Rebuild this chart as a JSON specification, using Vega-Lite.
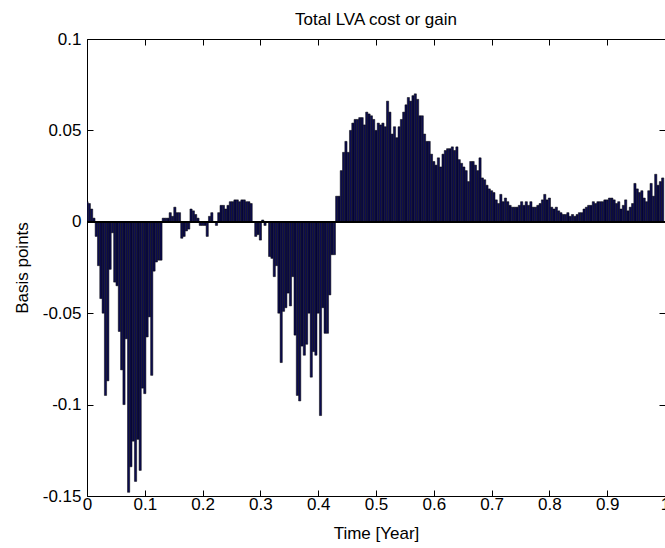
{
  "$schema": "https://vega.github.io/schema/vega-lite/v6.json",
  "width": 578,
  "height": 457,
  "autosize": {"type": "none"},
  "padding": {"left": 87, "top": 39, "right": 0, "bottom": 52},
  "background": "white",
  "title": {"text": "Total LVA cost or gain", "font": "Liberation Sans", "fontSize": 17, "fontWeight": "normal", "color": "black", "anchor": "middle", "offset": 1},
  "config": {
    "view": {"stroke": null},
    "axis": {
      "grid": false,
      "domainColor": "black",
      "tickColor": "black",
      "labelColor": "black",
      "titleColor": "black",
      "labelFont": "Liberation Sans",
      "titleFont": "Liberation Sans",
      "labelFontSize": 17,
      "titleFontSize": 17,
      "titleFontWeight": "normal",
      "tickSize": -6,
      "labelFlush": false,
      "labelOverlap": false
    }
  },
  "data": {"values": [
    {"t":0,"v":0.011},{"t":0.004,"v":0.010},{"t":0.008,"v":0.007},{"t":0.012,"v":0.002},{"t":0.016,"v":-0.008},
    {"t":0.02,"v":-0.024},{"t":0.024,"v":-0.042},{"t":0.028,"v":-0.050},{"t":0.032,"v":-0.095},{"t":0.036,"v":-0.087},
    {"t":0.04,"v":-0.026},{"t":0.044,"v":-0.006},{"t":0.048,"v":-0.033},{"t":0.052,"v":-0.035},{"t":0.056,"v":-0.060},
    {"t":0.06,"v":-0.081},{"t":0.064,"v":-0.100},{"t":0.068,"v":-0.064},{"t":0.072,"v":-0.148},{"t":0.076,"v":-0.134},
    {"t":0.08,"v":-0.120},{"t":0.084,"v":-0.142},{"t":0.088,"v":-0.119},{"t":0.092,"v":-0.136},{"t":0.096,"v":-0.091},
    {"t":0.1,"v":-0.094},{"t":0.104,"v":-0.063},{"t":0.108,"v":-0.052},{"t":0.112,"v":-0.084},{"t":0.116,"v":-0.027},
    {"t":0.12,"v":-0.022},{"t":0.124,"v":-0.021},{"t":0.128,"v":-0.021},{"t":0.132,"v":0.002},{"t":0.136,"v":0.002},
    {"t":0.14,"v":0.002},{"t":0.144,"v":0.005},{"t":0.148,"v":0.003},{"t":0.152,"v":0.008},{"t":0.156,"v":0.005},
    {"t":0.16,"v":0.005},{"t":0.164,"v":-0.009},{"t":0.168,"v":-0.008},{"t":0.172,"v":-0.005},{"t":0.176,"v":-0.004},
    {"t":0.18,"v":0.007},{"t":0.184,"v":0.006},{"t":0.188,"v":0.004},{"t":0.192,"v":0.002},{"t":0.196,"v":-0.002},
    {"t":0.2,"v":-0.002},{"t":0.204,"v":-0.002},{"t":0.208,"v":-0.008},{"t":0.212,"v":0.003},{"t":0.216,"v":0.005},
    {"t":0.22,"v":0.000},{"t":0.224,"v":-0.002},{"t":0.228,"v":0.005},{"t":0.232,"v":0.009},{"t":0.236,"v":0.009},
    {"t":0.24,"v":0.007},{"t":0.244,"v":0.009},{"t":0.248,"v":0.011},{"t":0.252,"v":0.011},{"t":0.256,"v":0.012},
    {"t":0.26,"v":0.012},{"t":0.264,"v":0.011},{"t":0.268,"v":0.012},{"t":0.272,"v":0.012},{"t":0.276,"v":0.011},
    {"t":0.28,"v":0.011},{"t":0.284,"v":0.010},{"t":0.288,"v":0.000},{"t":0.292,"v":-0.008},{"t":0.296,"v":-0.007},
    {"t":0.3,"v":-0.010},{"t":0.304,"v":0.001},{"t":0.308,"v":-0.002},{"t":0.312,"v":0.000},{"t":0.316,"v":-0.019},
    {"t":0.32,"v":-0.020},{"t":0.324,"v":-0.030},{"t":0.328,"v":-0.024},{"t":0.332,"v":-0.050},{"t":0.336,"v":-0.077},
    {"t":0.34,"v":-0.049},{"t":0.344,"v":-0.047},{"t":0.348,"v":-0.039},{"t":0.352,"v":-0.046},{"t":0.356,"v":-0.030},
    {"t":0.36,"v":-0.062},{"t":0.364,"v":-0.095},{"t":0.368,"v":-0.098},{"t":0.372,"v":-0.068},{"t":0.376,"v":-0.073},
    {"t":0.38,"v":-0.067},{"t":0.384,"v":-0.050},{"t":0.388,"v":-0.085},{"t":0.392,"v":-0.071},{"t":0.396,"v":-0.073},
    {"t":0.4,"v":-0.050},{"t":0.404,"v":-0.106},{"t":0.408,"v":-0.047},{"t":0.412,"v":-0.061},{"t":0.416,"v":-0.061},
    {"t":0.42,"v":-0.040},{"t":0.424,"v":-0.018},{"t":0.428,"v":-0.018},{"t":0.432,"v":0.014},{"t":0.436,"v":0.014},
    {"t":0.44,"v":0.028},{"t":0.444,"v":0.038},{"t":0.448,"v":0.044},{"t":0.452,"v":0.038},{"t":0.456,"v":0.050},
    {"t":0.46,"v":0.054},{"t":0.464,"v":0.056},{"t":0.468,"v":0.056},{"t":0.472,"v":0.057},{"t":0.476,"v":0.057},
    {"t":0.48,"v":0.053},{"t":0.484,"v":0.060},{"t":0.488,"v":0.059},{"t":0.492,"v":0.058},{"t":0.496,"v":0.056},
    {"t":0.5,"v":0.050},{"t":0.504,"v":0.054},{"t":0.508,"v":0.053},{"t":0.512,"v":0.054},{"t":0.516,"v":0.052},
    {"t":0.52,"v":0.066},{"t":0.524,"v":0.060},{"t":0.528,"v":0.048},{"t":0.532,"v":0.052},{"t":0.536,"v":0.046},
    {"t":0.54,"v":0.052},{"t":0.544,"v":0.056},{"t":0.548,"v":0.060},{"t":0.552,"v":0.064},{"t":0.556,"v":0.068},
    {"t":0.56,"v":0.066},{"t":0.564,"v":0.069},{"t":0.568,"v":0.070},{"t":0.572,"v":0.067},{"t":0.576,"v":0.058},
    {"t":0.58,"v":0.058},{"t":0.584,"v":0.048},{"t":0.588,"v":0.044},{"t":0.592,"v":0.044},{"t":0.596,"v":0.037},
    {"t":0.6,"v":0.033},{"t":0.604,"v":0.031},{"t":0.608,"v":0.035},{"t":0.612,"v":0.030},{"t":0.616,"v":0.037},
    {"t":0.62,"v":0.039},{"t":0.624,"v":0.040},{"t":0.628,"v":0.040},{"t":0.632,"v":0.041},{"t":0.636,"v":0.039},
    {"t":0.64,"v":0.041},{"t":0.644,"v":0.034},{"t":0.648,"v":0.032},{"t":0.652,"v":0.030},{"t":0.656,"v":0.028},
    {"t":0.66,"v":0.022},{"t":0.664,"v":0.033},{"t":0.668,"v":0.033},{"t":0.672,"v":0.031},{"t":0.676,"v":0.028},
    {"t":0.68,"v":0.035},{"t":0.684,"v":0.024},{"t":0.688,"v":0.023},{"t":0.692,"v":0.020},{"t":0.696,"v":0.018},
    {"t":0.7,"v":0.017},{"t":0.704,"v":0.016},{"t":0.708,"v":0.012},{"t":0.712,"v":0.010},{"t":0.716,"v":0.015},
    {"t":0.72,"v":0.011},{"t":0.724,"v":0.013},{"t":0.728,"v":0.011},{"t":0.732,"v":0.009},{"t":0.736,"v":0.008},
    {"t":0.74,"v":0.008},{"t":0.744,"v":0.008},{"t":0.748,"v":0.009},{"t":0.752,"v":0.011},{"t":0.756,"v":0.009},
    {"t":0.76,"v":0.011},{"t":0.764,"v":0.009},{"t":0.768,"v":0.011},{"t":0.772,"v":0.008},{"t":0.776,"v":0.008},
    {"t":0.78,"v":0.009},{"t":0.784,"v":0.010},{"t":0.788,"v":0.012},{"t":0.792,"v":0.015},{"t":0.796,"v":0.012},
    {"t":0.8,"v":0.013},{"t":0.804,"v":0.008},{"t":0.808,"v":0.007},{"t":0.812,"v":0.008},{"t":0.816,"v":0.006},
    {"t":0.82,"v":0.005},{"t":0.824,"v":0.004},{"t":0.828,"v":0.004},{"t":0.832,"v":0.005},{"t":0.836,"v":0.003},
    {"t":0.84,"v":0.004},{"t":0.844,"v":0.003},{"t":0.848,"v":0.004},{"t":0.852,"v":0.005},{"t":0.856,"v":0.005},
    {"t":0.86,"v":0.007},{"t":0.864,"v":0.008},{"t":0.868,"v":0.009},{"t":0.872,"v":0.009},{"t":0.876,"v":0.011},
    {"t":0.88,"v":0.010},{"t":0.884,"v":0.011},{"t":0.888,"v":0.011},{"t":0.892,"v":0.011},{"t":0.896,"v":0.012},
    {"t":0.9,"v":0.012},{"t":0.904,"v":0.013},{"t":0.908,"v":0.013},{"t":0.912,"v":0.012},{"t":0.916,"v":0.010},
    {"t":0.92,"v":0.011},{"t":0.924,"v":0.007},{"t":0.928,"v":0.009},{"t":0.932,"v":0.012},{"t":0.936,"v":0.006},
    {"t":0.94,"v":0.008},{"t":0.944,"v":0.010},{"t":0.948,"v":0.021},{"t":0.952,"v":0.018},{"t":0.956,"v":0.016},
    {"t":0.96,"v":0.017},{"t":0.964,"v":0.013},{"t":0.968,"v":0.011},{"t":0.972,"v":0.017},{"t":0.976,"v":0.021},
    {"t":0.98,"v":0.014},{"t":0.984,"v":0.026},{"t":0.988,"v":0.020},{"t":0.992,"v":0.022},{"t":0.996,"v":0.024}
  ]},
  "resolve": {"axis": {"x": "independent", "y": "independent"}},
  "layer": [
    {
      "mark": {"type": "bar", "width": 2.2, "fill": "#0c0c50", "stroke": "black", "strokeWidth": 0.5, "clip": true},
      "encoding": {
        "x": {"field": "t", "type": "quantitative", "scale": {"domain": [0, 1], "nice": false, "zero": false, "padding": 0},
              "axis": {"orient": "bottom", "values": [0,0.1,0.2,0.3,0.4,0.5,0.6,0.7,0.8,0.9,1], "labelExpr": "toString(datum.value)", "title": "Time [Year]", "labelPadding": 6, "titlePadding": 13}},
        "y": {"field": "v", "type": "quantitative", "scale": {"domain": [-0.15, 0.1], "nice": false, "padding": 0},
              "axis": {"orient": "left", "values": [-0.15,-0.1,-0.05,0,0.05,0.1], "labelExpr": "toString(datum.value)", "title": "Basis points", "labelPadding": 12, "titlePadding": 11}}
      }
    },
    {
      "mark": {"type": "rule", "color": "black", "strokeWidth": 1},
      "encoding": {"y": {"datum": 0, "type": "quantitative", "axis": null}}
    },
    {
      "mark": {"type": "point", "opacity": 0},
      "encoding": {
        "x": {"field": "t", "type": "quantitative", "axis": {"orient": "top", "values": [0,0.1,0.2,0.3,0.4,0.5,0.6,0.7,0.8,0.9,1], "labels": false, "title": null}},
        "y": {"field": "v", "type": "quantitative", "axis": {"orient": "right", "values": [-0.15,-0.1,-0.05,0,0.05,0.1], "labels": false, "title": null, "domain": false}}
      }
    }
  ]
}
